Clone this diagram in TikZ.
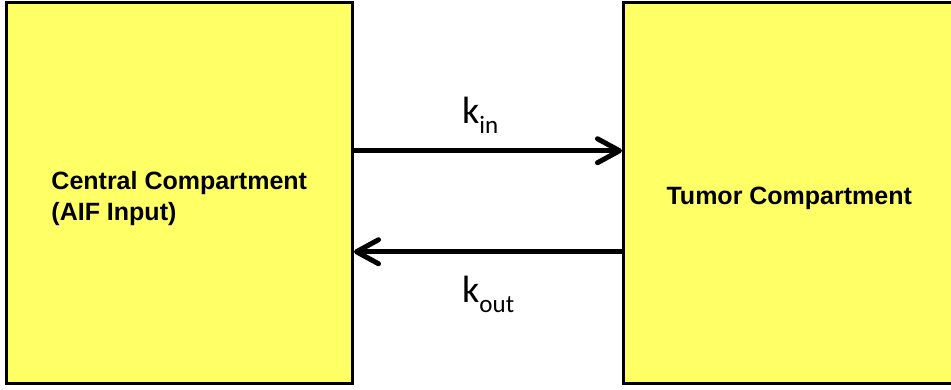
\documentclass[tikz,border=0pt]{standalone}
\usepackage{fontspec}
\setmainfont{Liberation Sans}
\newfontfamily\kfont{Carlito}
\usetikzlibrary{arrows.meta}

\definecolor{compyellow}{RGB}{255,255,102}

\tikzset{
  compbox/.style={draw=black, line width=3pt, fill=compyellow, rectangle,
    inner sep=0pt, anchor=center},
  boxtext/.style={font=\fontsize{25}{31}\selectfont\bfseries, inner sep=0pt,
    text=black},
  flow/.style={line width=5pt, black,
    -{Straight Barb[length=22pt, width=24pt, round]}},
  klabel/.style={inner sep=0pt, anchor=base west, text=black}
}

\newcommand{\ratelabel}[1]{%
  {\kfont\fontsize{38}{38}\selectfont k}%
  \raisebox{-10pt}{\kfont\fontsize{25}{25}\selectfont #1}}

\begin{document}
\begin{tikzpicture}[x=1pt, y=-1pt]
  \useasboundingbox (0,0) rectangle (951,390);
  \fill[white] (0,0) rectangle (951,390);
  \clip (0,0) rectangle (951,390);

  % the two compartments
  \node[compbox, minimum width=346.5pt, minimum height=380.5pt]
    (central) at (179.25,193.25) {};
  \node[compbox, minimum width=331.5pt, minimum height=380.5pt]
    (tumor) at (789.25,193.25) {};

  \node[boxtext, align=left] (centraltext) at ([yshift=-5pt]central.center)
    {Central Compartment\\(AIF Input)};
  \node[boxtext] (tumortext) at ([yshift=-5pt]tumor.center)
    {Tumor Compartment};

  % exchange between the compartments
  \draw[flow] ([yshift=42.5pt]central.east) -- ([yshift=42.5pt]tumor.west);
  \draw[flow] ([yshift=-58.5pt]tumor.west) -- ([yshift=-58.5pt]central.east);

  \node[klabel] (kin) at (462,124) {\ratelabel{in}};
  \node[klabel] (kout) at (462,302) {\ratelabel{out}};
\end{tikzpicture}
\end{document}
